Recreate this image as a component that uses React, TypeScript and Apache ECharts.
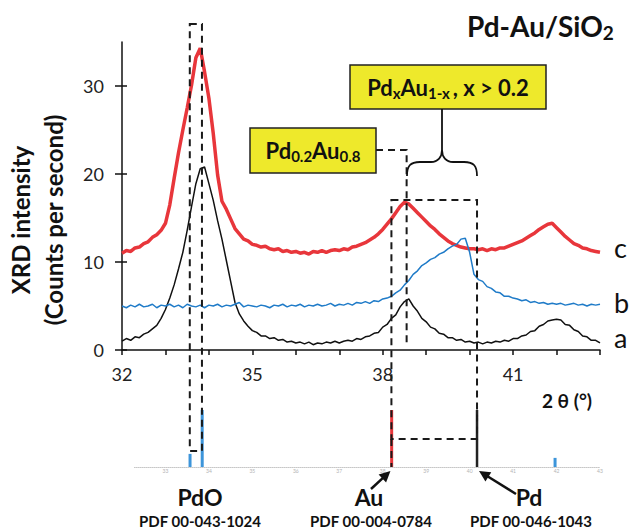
import React, { useEffect, useRef } from "react";
import * as echarts from "echarts";

const FONT = "Lato, 'Open Sans', sans-serif";
const RED = "#E8363B";
const BLUE = "#1F7BC8";
const BLACK = "#111111";
const YELLOW = "#EEE92B";

// Scan sampling: 2θ from 32.0° in 0.1° steps (111 points)
const scanStart = 32.0;
const scanStep = 0.1;

// a – black trace
const sampleA = [
  1.0, 1.3, 1.1, 1.5, 1.4, 1.8, 2.0, 2.4, 2.8, 3.6,
  4.6, 5.9, 7.4, 9.2, 11.1, 13.6, 16.3, 18.9, 20.6, 20.8,
  18.9, 17.0, 14.7, 12.6, 10.2, 7.8, 5.4, 4.1, 3.3, 2.7,
  2.2, 2.0, 1.6, 1.6, 1.3, 1.4, 1.1, 1.2, 0.9, 1.0,
  0.8, 0.9, 0.7, 0.9, 0.6, 0.8, 0.7, 0.9, 0.8, 1.0,
  0.8, 1.0, 1.1, 1.0, 1.3, 1.2, 1.5, 1.6, 1.9, 2.0,
  2.6, 2.9, 3.6, 4.0, 4.9, 5.5, 5.8, 5.0, 4.4, 3.6,
  3.2, 2.6, 2.4, 1.9, 1.8, 1.4, 1.4, 1.1, 1.2, 0.9,
  1.0, 0.8, 0.9, 0.7, 0.9, 0.8, 1.0, 0.9, 1.1, 1.0,
  1.3, 1.3, 1.6, 1.7, 2.1, 2.2, 2.7, 2.9, 3.3, 3.4,
  3.5, 3.4, 2.9, 2.8, 2.3, 2.1, 1.6, 1.5, 1.1, 1.1,
  0.8,
];

// b – blue trace
const sampleB = [
  5.0, 4.8, 5.1, 4.9, 5.2, 4.9, 5.0, 5.2, 4.8, 5.1,
  5.0, 5.2, 4.9, 5.1, 4.8, 5.2, 5.0, 4.9, 5.1, 4.8,
  5.1, 5.0, 5.2, 4.9, 5.1, 5.0, 5.2, 5.4, 4.9, 5.1,
  5.0, 4.9, 5.1, 5.0, 4.8, 5.1, 5.0, 5.2, 4.9, 5.1,
  5.0, 5.2, 4.9, 5.1, 5.0, 5.2, 5.0, 5.1, 5.3, 5.0,
  5.2, 5.1, 5.3, 5.1, 5.4, 5.3, 5.5, 5.3, 5.6, 5.5,
  5.8, 5.9, 6.1, 6.5, 6.8, 7.4, 7.9, 8.6, 9.0, 9.6,
  9.9, 10.3, 10.5, 10.9, 11.1, 11.5, 11.8, 12.0, 12.6, 12.7,
  11.1, 8.6, 8.0, 7.8, 7.2, 7.0, 6.6, 6.5, 6.1, 6.1,
  5.9, 5.8, 5.6, 5.7, 5.4, 5.5, 5.3, 5.4, 5.2, 5.3,
  5.2, 5.3, 5.1, 5.2, 5.3, 5.1, 5.2, 5.0, 5.2, 5.1,
  5.2,
];

// c – red trace
const sampleC = [
  11.0, 11.3, 11.2, 11.6, 11.7, 12.1, 12.3, 12.8, 13.1, 13.6,
  14.4, 16.5, 19.5, 22.4, 25.0, 27.5, 30.1, 33.2, 34.3, 31.6,
  28.6, 24.6, 19.9, 16.9, 16.0, 14.9, 13.8, 13.2, 12.6, 12.4,
  12.0, 11.9, 11.7, 11.8, 11.5, 11.4, 11.5, 11.2, 11.3, 11.1,
  11.2, 11.0, 11.1, 10.9, 11.2, 11.1, 11.3, 11.1, 11.3, 11.4,
  11.3, 11.5, 11.4, 11.7, 11.8, 12.0, 12.2, 12.5, 12.8, 13.2,
  13.7, 14.3, 14.9, 15.6, 16.3, 16.8, 16.6, 16.1, 15.6, 15.1,
  14.6, 14.1, 13.7, 13.2, 12.8, 12.4, 12.1, 11.9, 11.7, 11.6,
  11.5, 11.5, 11.4, 11.5, 11.3, 11.5, 11.4, 11.6, 11.6, 11.8,
  12.0, 12.2, 12.4, 12.7, 13.0, 13.3, 13.7, 14.0, 14.3, 14.4,
  13.9, 13.4, 12.9, 12.5, 12.1, 11.9, 11.6, 11.5, 11.3, 11.2,
  11.1,
];

const xTickValues = [32, 33, 34, 35, 36, 37, 38, 39, 40, 41, 42, 43];
const xLabelValues = [32, 35, 38, 41];
const yTickValues = [0, 10, 20, 30];
const refTickValues = [33, 34, 35, 36, 37, 38, 39, 40, 41, 42, 43];

// Reference patterns: [2θ, relative intensity]
const pdoSticks = [[33.56, 23], [33.84, 100], [41.96, 16]];
const auSticks = [[38.2, 100]];
const pdSticks = [[40.17, 100]];

// Marked positions (2θ)
const alloyPeak = 38.55;

const toPairs = (vals: number[]) =>
  vals.map((v, i) => [+(scanStart + i * scanStep).toFixed(2), v]);

const BRACE_D =
  "M407,176 C407,166 410,162 420,162 L431,162 C438,162 442,157 442,150 C442,157 446,162 453,162 L464,162 C474,162 477,166 477,176";
echarts.graphic.registerShape("brace", echarts.graphic.extendPath(BRACE_D, {}));

const dash = { stroke: "#1a1a1a", lineWidth: 2, lineDash: [7, 5], fill: "none" };

function arrow(x1: number, y1: number, x2: number, y2: number) {
  const dx = x2 - x1;
  const dy = y2 - y1;
  const len = Math.hypot(dx, dy);
  const ux = dx / len;
  const uy = dy / len;
  const hl = 11;
  const hw = 5.5;
  const bx = x2 - ux * hl;
  const by = y2 - uy * hl;
  return [
    { type: "line", z: 120, shape: { x1, y1, x2: bx + ux * 2, y2: by + uy * 2 }, style: { stroke: BLACK, lineWidth: 2.5 } },
    {
      type: "polygon",
      z: 120,
      shape: { points: [[x2, y2], [bx - uy * hw, by + ux * hw], [bx + uy * hw, by - ux * hw]] },
      style: { fill: BLACK },
    },
  ];
}

function txt(x: number, y: number, text: string, font: string, align = "center", extra: any = {}) {
  return {
    type: "text",
    x,
    y,
    z: 130,
    ...extra,
    style: { text, font, fill: "#111", align, textAlign: align, verticalAlign: "middle", textVerticalAlign: "middle" },
  };
}

function richTxt(x: number, y: number, text: string, main: number, sub: number, align = "center") {
  return {
    type: "text",
    x,
    y,
    z: 130,
    style: {
      text,
      align,
      textAlign: align,
      verticalAlign: "middle",
      textVerticalAlign: "middle",
      rich: {
        m: { font: `bold ${main}px ${FONT}`, fill: "#111", lineHeight: main + 4 },
        s: { font: `bold ${sub}px ${FONT}`, fill: "#111", lineHeight: sub, verticalAlign: "bottom" },
      },
    },
  };
}

export default function App() {
  const ref = useRef<HTMLDivElement>(null);

  useEffect(() => {
    if (!ref.current) return;
    const chart = echarts.init(ref.current, undefined, { renderer: "svg" });

    const axisLineStyle = { color: BLACK, width: 1.5 };

    chart.setOption({
      animation: false,
      backgroundColor: "#ffffff",
      textStyle: { fontFamily: FONT },
      grid: [
        { left: 122, top: 42, width: 478, height: 308 },
        { left: 122, top: 410, width: 478, height: 57 },
      ],
      xAxis: [
        {
          type: "value",
          gridIndex: 0,
          min: 32,
          max: 43,
          interval: 1,
          axisLine: { show: true, onZero: false, lineStyle: axisLineStyle },
          axisTick: { show: true, length: 5, customValues: xTickValues, lineStyle: axisLineStyle },
          axisLabel: { customValues: xLabelValues, fontSize: 18, color: "#222", margin: 15, fontFamily: FONT },
          splitLine: { show: false },
        },
        {
          type: "value",
          gridIndex: 1,
          min: 32,
          max: 43,
          interval: 1,
          axisLine: { show: false },
          axisTick: { show: false },
          axisLabel: { customValues: refTickValues, fontSize: 5, color: "#b4b4b4", margin: 1 },
          splitLine: { show: false },
        },
      ],
      yAxis: [
        {
          type: "value",
          gridIndex: 0,
          position: "left",
          min: 0,
          max: 35,
          interval: 10,
          axisLine: { show: true, onZero: false, lineStyle: axisLineStyle },
          axisTick: { show: true, length: 7, customValues: yTickValues, lineStyle: axisLineStyle },
          axisLabel: { customValues: yTickValues, fontSize: 18, color: "#222", margin: 18, fontFamily: FONT },
          splitLine: { show: false },
        },
        {
          type: "value",
          gridIndex: 0,
          position: "left",
          min: 0,
          max: 35,
          interval: 10,
          axisLine: { show: false },
          axisTick: { show: true, inside: true, length: 5, customValues: yTickValues, lineStyle: axisLineStyle },
          axisLabel: { show: false },
          splitLine: { show: false },
        },
        { type: "value", gridIndex: 1, min: 0, max: 100, show: false },
      ],
      series: [
        {
          type: "line",
          name: "c",
          xAxisIndex: 0,
          yAxisIndex: 0,
          data: toPairs(sampleC),
          symbol: "none",
          lineStyle: { color: RED, width: 3.5 },
          z: 2,
        },
        {
          type: "line",
          name: "a",
          xAxisIndex: 0,
          yAxisIndex: 0,
          data: toPairs(sampleA),
          symbol: "none",
          lineStyle: { color: BLACK, width: 1.5 },
          z: 3,
        },
        {
          type: "line",
          name: "b",
          xAxisIndex: 0,
          yAxisIndex: 0,
          data: toPairs(sampleB),
          symbol: "none",
          lineStyle: { color: BLUE, width: 1.5 },
          z: 4,
        },
        {
          type: "bar",
          name: "PdO",
          xAxisIndex: 1,
          yAxisIndex: 2,
          data: pdoSticks,
          barWidth: 3,
          barGap: "-100%",
          itemStyle: { color: "#3D95DA" },
          markLine: {
            silent: true,
            symbol: "none",
            label: { show: false },
            lineStyle: { color: "#a0a0a0", type: "dotted", width: 1 },
            data: [[{ coord: [32.28, 0] }, { coord: [43, 0] }]],
          },
        },
        {
          type: "bar",
          name: "Au",
          xAxisIndex: 1,
          yAxisIndex: 2,
          data: auSticks,
          barWidth: 3,
          barGap: "-100%",
          itemStyle: { color: RED },
        },
        {
          type: "bar",
          name: "Pd",
          xAxisIndex: 1,
          yAxisIndex: 2,
          data: pdSticks,
          barWidth: 2.5,
          barGap: "-100%",
          itemStyle: { color: "#222" },
        },
      ],
    });

    const X = (v: number) => chart.convertToPixel({ xAxisIndex: 1 }, v) as number;
    const pdoL = X(pdoSticks[0][0]);
    const pdoR = X(pdoSticks[1][0]);
    const auX = X(auSticks[0][0]);
    const pdX = X(pdSticks[0][0]);
    const peakX = chart.convertToPixel({ xAxisIndex: 0 }, alloyPeak) as number;

    const graphics: any[] = [
      // PdO window
      { type: "rect", z: 110, shape: { x: pdoL, y: 24, width: pdoR - pdoL, height: 427 }, style: { ...dash } },
      // Pd–Au alloy window
      { type: "rect", z: 110, shape: { x: auX, y: 200, width: pdX - auX, height: 239 }, style: { ...dash } },
      { type: "line", z: 110, shape: { x1: auX, y1: 439, x2: auX, y2: 467 }, style: { ...dash } },
      // Pd0.2Au0.8 leader
      {
        type: "polyline",
        z: 110,
        shape: { points: [[376, 150], [peakX, 150], [peakX, 347]] },
        style: { ...dash },
      },
      // label boxes
      { type: "rect", z: 115, shape: { x: 250, y: 128, width: 126, height: 45 }, style: { fill: YELLOW, stroke: "#222", lineWidth: 1.5 } },
      { type: "rect", z: 115, shape: { x: 350, y: 65, width: 196, height: 44 }, style: { fill: YELLOW, stroke: "#222", lineWidth: 1.5 } },
      richTxt(313, 150, "{m|Pd}{s|0.2}{m|Au}{s|0.8}", 22, 15),
      richTxt(448, 87, "{m|Pd}{s|x}{m|Au}{s|1-x}{m|\u2009, x > 0.2}", 22, 15),
      // brace and its stem
      { type: "line", z: 115, shape: { x1: 442, y1: 109, x2: 442, y2: 150 }, style: { stroke: BLACK, lineWidth: 1.8 } },
      { type: "brace", z: 115, x: 0, y: 0, style: { stroke: BLACK, lineWidth: 1.8, fill: "none" } },
      // title
      richTxt(467, 26, "{m|Pd-Au/SiO}{s|2}", 28, 19, "left"),
      // axis titles
      {
        type: "text",
        x: 37,
        y: 220,
        rotation: Math.PI / 2,
        z: 130,
        style: {
          text: "XRD intensity\n(Counts per second)",
          font: `bold 24px ${FONT}`,
          lineHeight: 33,
          fill: "#111",
          align: "center",
          textAlign: "center",
          verticalAlign: "middle",
          textVerticalAlign: "middle",
        },
      },
      txt(567, 400, "2 \u03b8 (\u00b0)", `bold 19px ${FONT}`),
      // trace labels
      txt(614, 247, "c", `27px ${FONT}`, "left"),
      txt(614, 302, "b", `27px ${FONT}`, "left"),
      txt(614, 337, "a", `27px ${FONT}`, "left"),
      // reference labels
      txt(200, 497, "PdO", `bold 23px ${FONT}`),
      txt(200, 521, "PDF 00-043-1024", `bold 15px ${FONT}`),
      txt(369, 497, "Au", `bold 23px ${FONT}`),
      txt(371, 521, "PDF 00-004-0784", `bold 15px ${FONT}`),
      txt(529, 497, "Pd", `bold 23px ${FONT}`),
      txt(531, 521, "PDF 00-046-1043", `bold 15px ${FONT}`),
      ...arrow(371, 489, auX - 1, 471),
      ...arrow(516, 494, pdX + 2, 471),
    ];

    chart.setOption({ graphic: graphics });

    return () => chart.dispose();
  }, []);

  return (
    <div
      ref={ref}
      style={{ position: "fixed", left: 0, top: 0, width: 630, height: 532, background: "#fff" }}
    />
  );
}
